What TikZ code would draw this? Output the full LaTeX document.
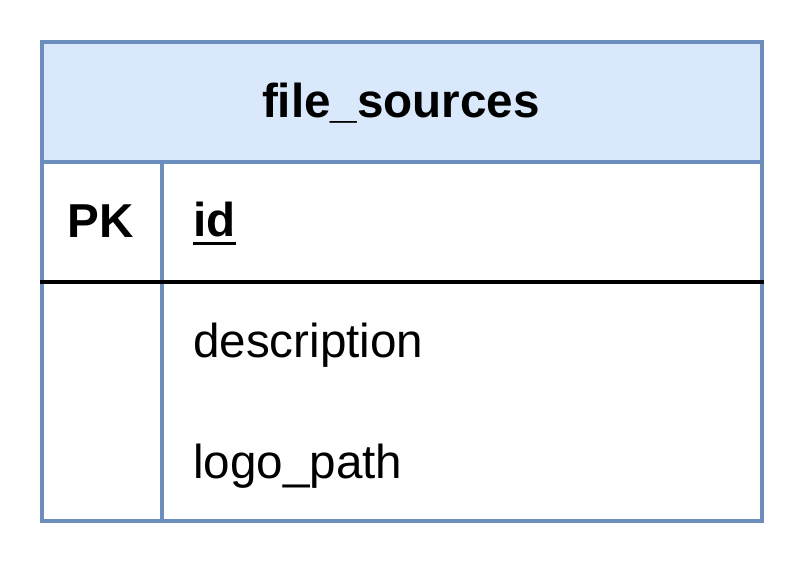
\documentclass[tikz,border=0pt]{standalone}
\usepackage{fontspec}
\setmainfont{Liberation Sans}
\definecolor{hdrfill}{HTML}{DAE8FC}
\definecolor{hdrline}{HTML}{6C8EBF}
\begin{document}
\begin{tikzpicture}[x=1pt,y=-1pt,
  txt/.style={inner sep=0pt,font=\fontsize{47.6}{57}\selectfont},
  bold/.style={txt,font=\fontsize{47.6}{57}\selectfont\bfseries},
  bord/.style={draw=hdrline,line width=4pt}]
\useasboundingbox (0,0) rectangle (804,564);
\fill[white] (0,0) rectangle (804,564);
\filldraw[fill=hdrfill,bord] (42,42) rectangle (762,162);
\draw[bord] (42,162) rectangle (762,521);
\draw[bord] (162,162) -- (162,521);
\draw[black,line width=4pt] (40,282) -- (764,282);
\node[bold,anchor=base] (title) at (401,118) {file\_sources};
\node[bold,anchor=base] (pk) at (101,238) {PK};
\node[bold,anchor=base west] (id) at (193,237) {id};
\draw[black,line width=3pt] ([yshift=-6.5pt]id.base west) -- ([yshift=-6.5pt]id.base east);
\node[txt,anchor=base west] (desc) at (193,358) {description};
\node[txt,anchor=base west] (logo) at (193,478) {logo\_path};
\end{tikzpicture}
\end{document}
